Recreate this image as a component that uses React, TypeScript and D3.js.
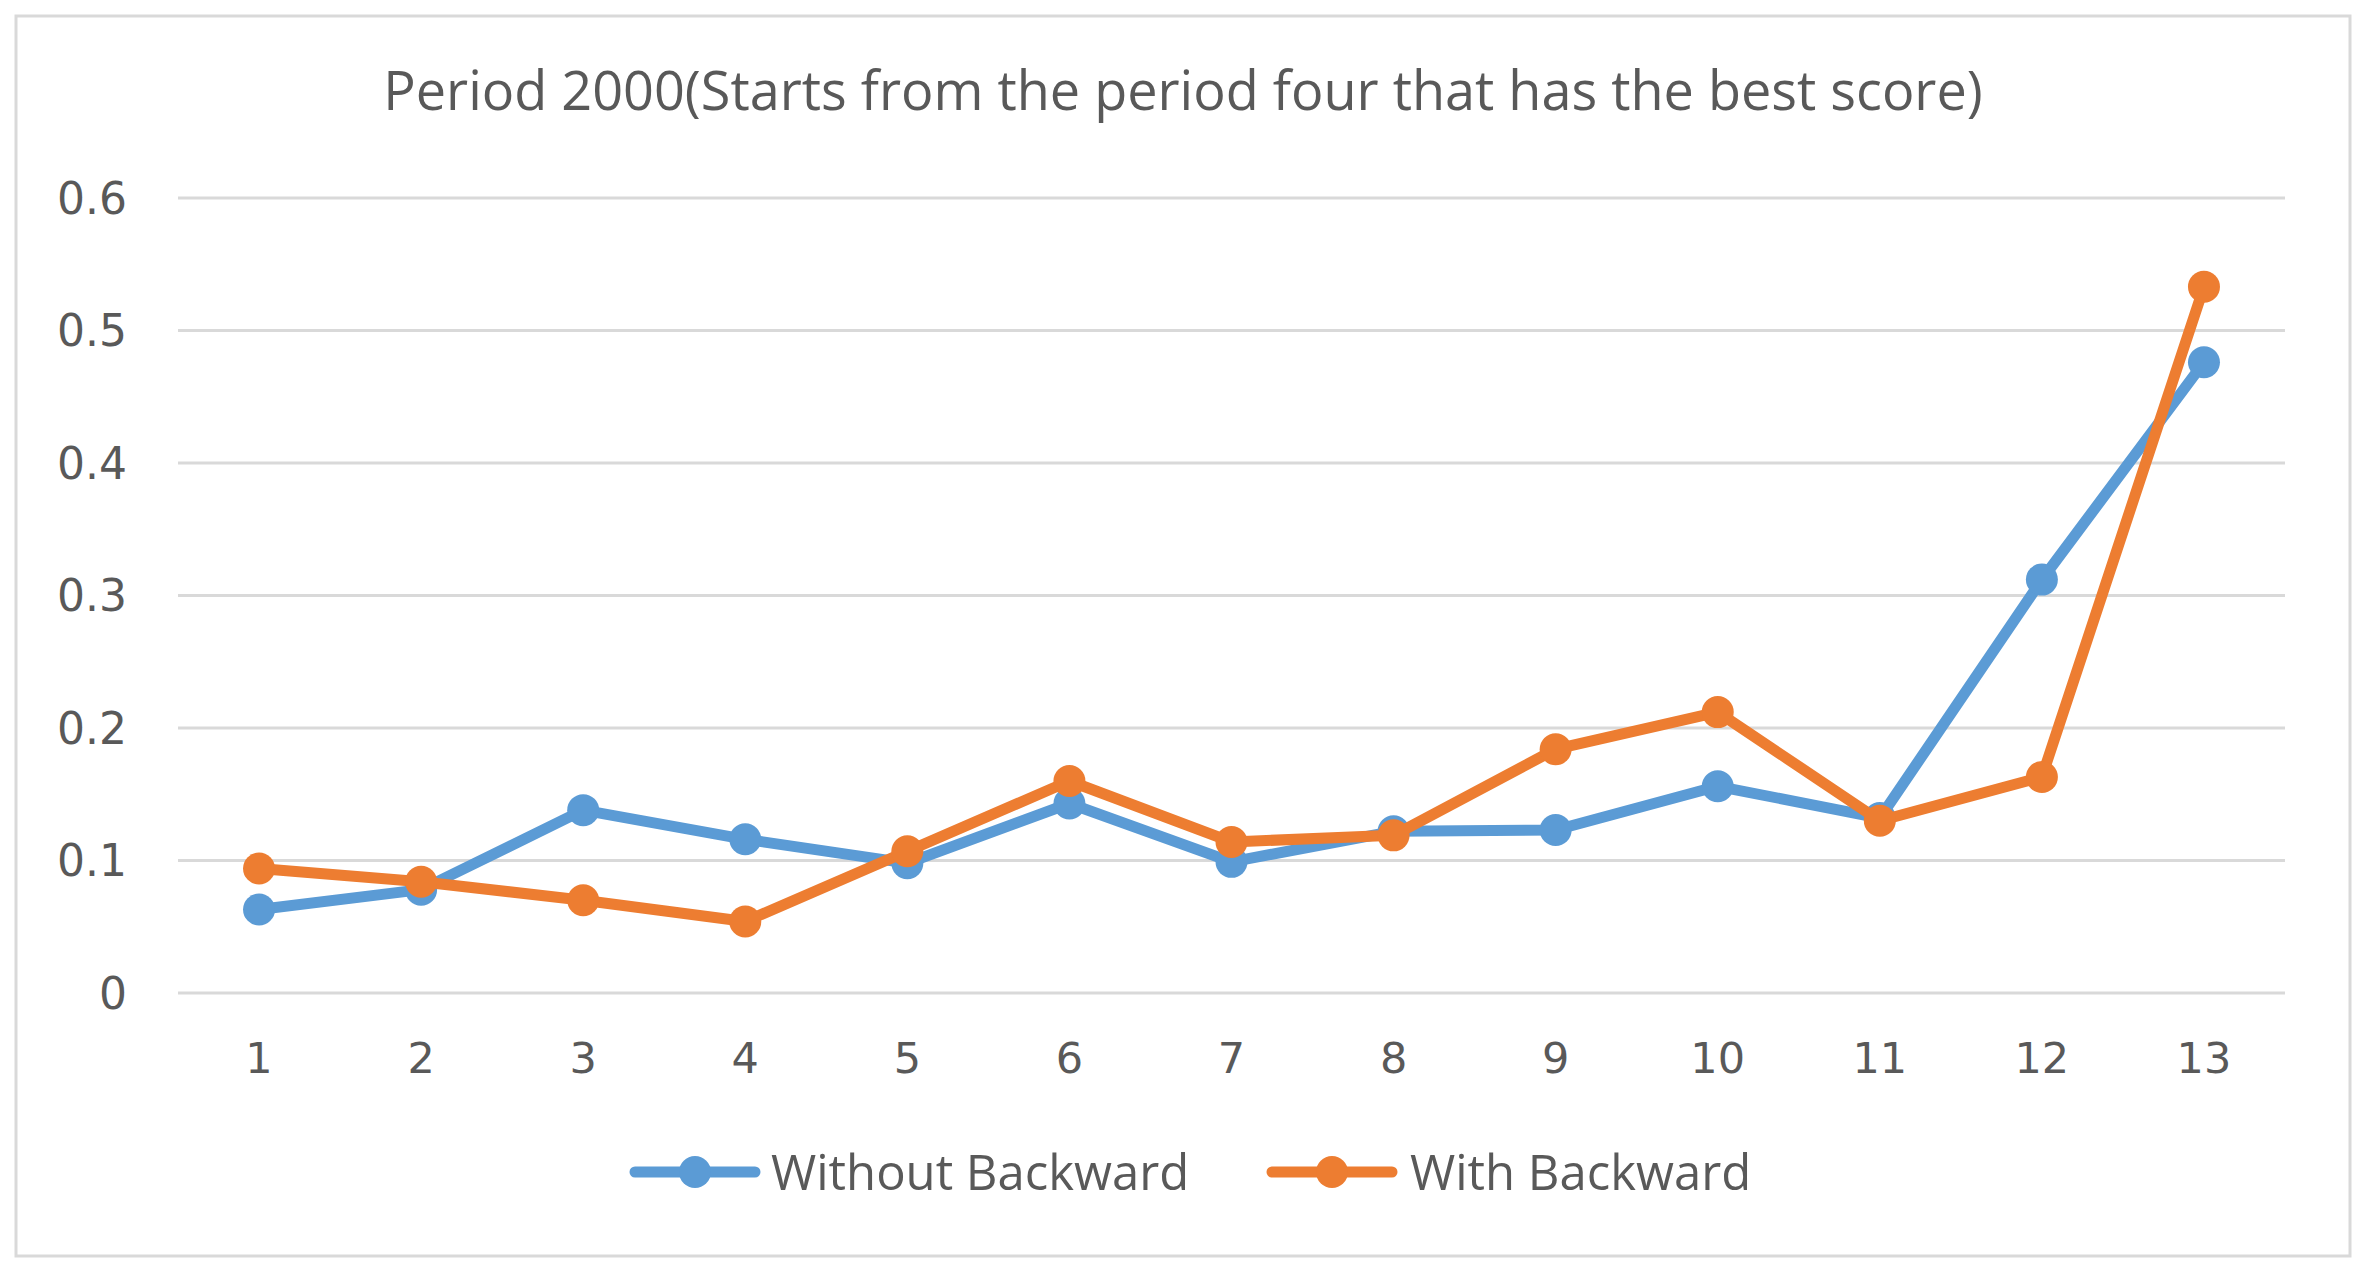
import React from "react";
import * as d3 from "d3";

const categories = ["1", "2", "3", "4", "5", "6", "7", "8", "9", "10", "11", "12", "13"];
const withoutBackward = [0.063, 0.078, 0.138, 0.116, 0.098, 0.143, 0.099, 0.122, 0.123, 0.156, 0.132, 0.312, 0.476];
const withBackward = [0.094, 0.084, 0.070, 0.054, 0.107, 0.160, 0.114, 0.119, 0.184, 0.212, 0.130, 0.163, 0.533];
const yTicks = [0, 0.1, 0.2, 0.3, 0.4, 0.5, 0.6];
const seriesNames = ["Without Backward", "With Backward"];
const seriesColors = ["#5B9BD5", "#ED7D31"];
const title = "Period 2000(Starts from the period four that has the best score)";

const W = 2369;
const H = 1275;
const plot = { left: 178, right: 2285, top: 198, bottom: 993 };

export default function App() {
  const x = d3.scaleBand<string>().domain(categories).range([plot.left, plot.right]);
  const y = d3.scaleLinear().domain([0, 0.6]).range([plot.bottom, plot.top]);
  const cx = (c: string) => (x(c) ?? 0) + x.bandwidth() / 2;
  const line = d3
    .line<number>()
    .x((_, i) => cx(categories[i]))
    .y((d) => y(d));
  const series = [withoutBackward, withBackward];
  const textColor = "#595959";
  const legendY = 1172;
  const legendItems = [
    { x0: 635, tx: 771 },
    { x0: 1272, tx: 1410 },
  ];

  return (
    <div style={{ position: "absolute", left: 0, top: 0 }}>
      <svg width={W} height={H} style={{ display: "block", background: "#fff" }}>
        <rect x={0} y={0} width={W} height={H} fill="#fff" />
        <rect x={16} y={16} width={2334} height={1240} fill="#fff" stroke="#d9d9d9" strokeWidth={3} />
        <text
          x={1183}
          y={110}
          textAnchor="middle"
          fontFamily="'Open Sans', 'Noto Sans', sans-serif"
          fontSize={54}
          fill={textColor}
        >
          {title}
        </text>
        {yTicks.map((t) => (
          <g key={t}>
            <line x1={plot.left} x2={plot.right} y1={y(t)} y2={y(t)} stroke="#d9d9d9" strokeWidth={3} />
            <text
              x={127}
              y={y(t)}
              dy="0.36em"
              textAnchor="end"
              fontFamily="'DejaVu Sans', sans-serif"
              fontSize={44}
              fill={textColor}
            >
              {String(t)}
            </text>
          </g>
        ))}
        {categories.map((c) => (
          <text
            key={c}
            x={cx(c)}
            y={1058}
            dy="0.36em"
            textAnchor="middle"
            fontFamily="'DejaVu Sans', sans-serif"
            fontSize={43}
            fill={textColor}
          >
            {c}
          </text>
        ))}
        {series.map((s, si) => (
          <g key={si}>
            <path d={line(s) ?? ""} fill="none" stroke={seriesColors[si]} strokeWidth={11} strokeLinejoin="round" />
            {s.map((v, i) => (
              <circle key={i} cx={cx(categories[i])} cy={y(v)} r={16} fill={seriesColors[si]} />
            ))}
          </g>
        ))}
        {legendItems.map((it, i) => (
          <g key={i}>
            <line x1={it.x0} x2={it.x0 + 120} y1={legendY} y2={legendY} stroke={seriesColors[i]} strokeWidth={11} strokeLinecap="round" />
            <circle cx={it.x0 + 60} cy={legendY} r={16} fill={seriesColors[i]} />
            <text
              x={it.tx}
              y={legendY}
              dy="0.36em"
              fontFamily="'Open Sans', 'Noto Sans', sans-serif"
              fontSize={49}
              fill={textColor}
            >
              {seriesNames[i]}
            </text>
          </g>
        ))}
      </svg>
    </div>
  );
}
